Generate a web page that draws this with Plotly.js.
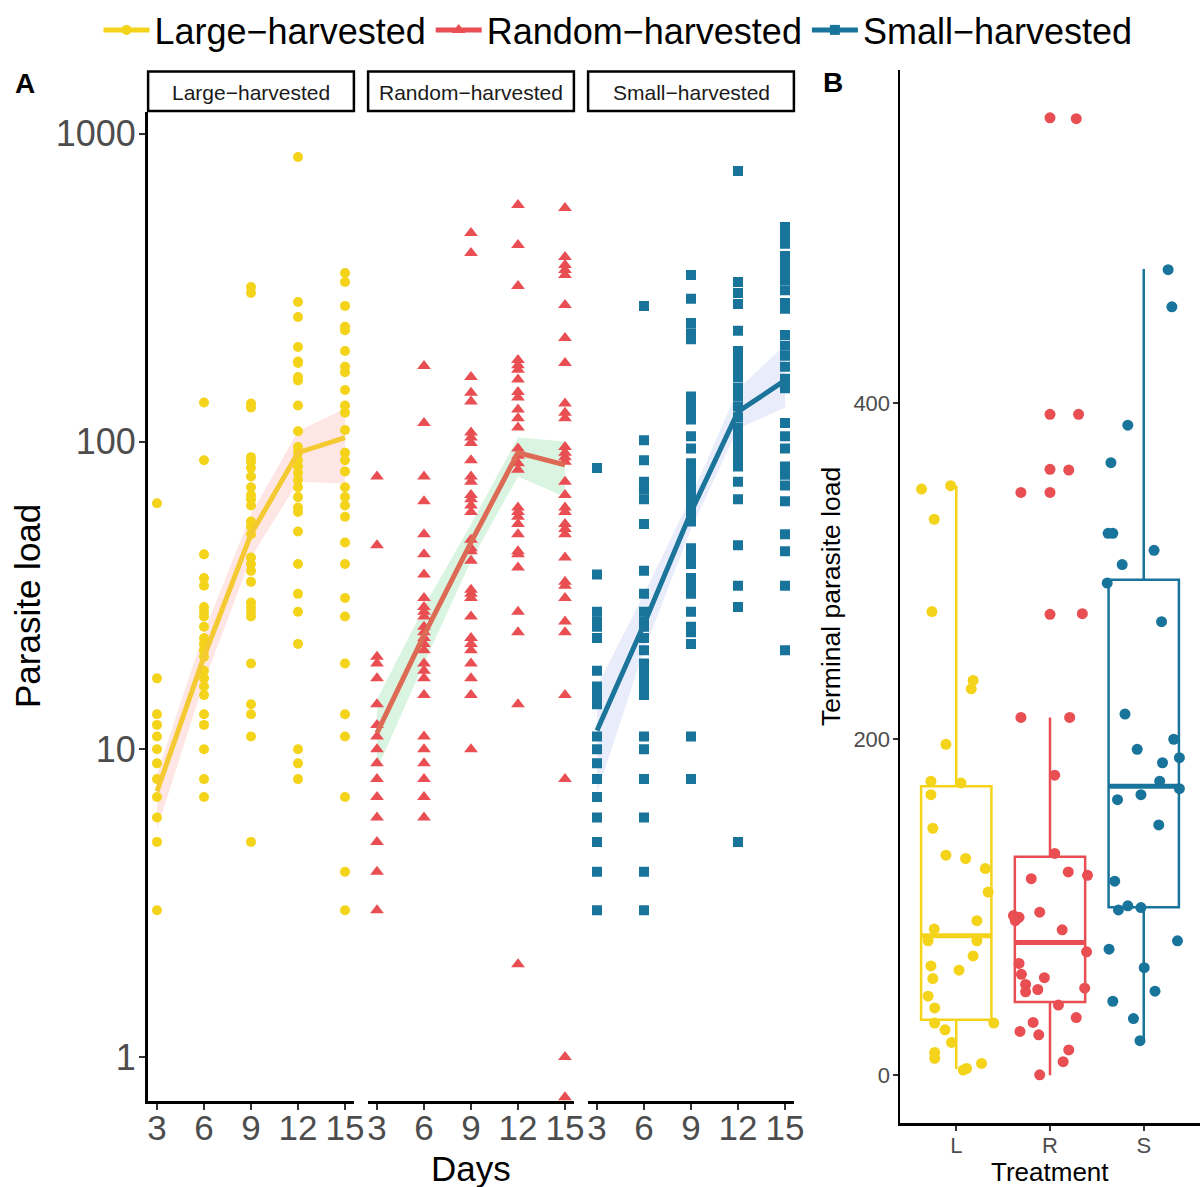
<!DOCTYPE html>
<html><head><meta charset="utf-8">
<script src="https://cdn.plot.ly/plotly-3.0.1.min.js"></script>
<style>html,body{margin:0;padding:0;background:#fff}#chart{width:1201px;height:1187px}</style>
</head><body><div id="chart"></div>
<script>
// ---------- DATA ----------
const days = [3, 6, 9, 12, 15];
const groupNames = ["Large−harvested", "Random−harvested", "Small−harvested"];

// Panel A: parasite load by day (Large-harvested)
const largeD3  = [63, 17, 13, 12, 11, 10, 9, 8, 7, 6, 5, 3];
const largeD6  = [134, 87, 43, 36, 34, 29, 28, 27, 25, 23, 22, 21, 20, 18, 17, 16, 15, 13, 12, 10, 8, 7];
const largeD9  = [318, 304, 133, 129, 89, 86, 82, 77, 71, 67, 65, 62, 55, 53, 50, 42, 40, 38, 35, 30, 29, 28, 27, 19, 14, 13, 11, 5];
const largeD12 = [841, 284, 254, 203, 182, 180, 162, 158, 131, 108, 96, 92, 87, 83, 79, 75, 71, 66, 61, 59, 51, 40, 32, 28, 22, 10, 9, 8];
const largeD15 = [353, 330, 276, 236, 230, 197, 175, 168, 147, 131, 124, 109, 92, 87, 80, 71, 66, 62, 57, 47, 40, 31, 27, 19, 13, 11, 7, 4, 3];

// Random-harvested
const randomD3  = [77, 46, 20, 19, 17, 14, 12, 11, 10, 9, 8, 7, 6, 5, 4, 3];
const randomD6  = [176, 115, 77, 64, 50, 43, 37, 31, 29, 28, 27, 25, 24, 23, 22, 21, 19, 18, 17, 15, 11, 10, 9, 8, 7, 6];
const randomD9  = [476, 410, 162, 144, 135, 107, 103, 99, 87, 77, 74, 67, 65, 62, 59, 48, 45, 44, 41, 33, 32, 31, 27, 23, 22, 21, 19, 17, 15, 10];
const randomD12 = [587, 435, 320, 184, 177, 171, 159, 145, 139, 127, 119, 111, 95, 90, 85, 81, 61, 59, 57, 54, 50, 44, 43, 39, 28, 24, 14, 2];
const randomD15 = [574, 398, 375, 361, 348, 278, 217, 180, 133, 124, 119, 96, 92, 89, 86, 74, 67, 61, 59, 54, 52, 50, 42, 35, 34, 31, 26, 24, 15, 8, 1, 0.74];

// Small-harvested
const smallD3  = [82, 37, 28, 26, 25, 23, 18, 16, 15, 14, 11, 10, 9, 8, 7, 6, 5, 4, 3];
const smallD6  = [276, 101, 87, 74, 70, 65, 54, 38, 32, 28, 26, 25, 23, 21, 19, 18, 17, 16, 15, 11, 10, 8, 6, 4, 3];
const smallD9  = [348, 291, 243, 225, 215, 140, 132, 126, 118, 104, 95, 85, 80, 76, 74, 70, 66, 62, 58, 55, 45, 42, 40, 36, 34, 32, 28, 25, 24, 22, 11, 8];
const smallD12 = [757, 330, 304, 280, 229, 197, 185, 172, 162, 150, 140, 130, 120, 111, 107, 100, 94, 92, 87, 83, 74, 65, 46, 34, 29, 5];
const smallD15 = [498, 470, 439, 401, 375, 351, 335, 310, 282, 270, 222, 205, 190, 175, 160, 156, 149, 115, 104, 95, 83, 78, 72, 64, 50, 44, 34, 21];

// Panel A: trend (mean) and ribbon bounds
const largeMean  = [7.3, 20, 50, 92, 103];
const largeLo    = [5.5, 16.5, 42, 74, 73];
const largeHi    = [8.3, 24, 58, 108, 128];
const randomMean = [11.3, 23.5, 47, 92, 84];
const randomLo   = [8.6, 19, 41, 77, 66];
const randomHi   = [14.5, 29, 54, 103, 100];
const smallMean  = [11.5, 25.5, 59, 125, 158];
const smallLo    = [7.2, 21, 52, 110, 129];
const smallHi    = [16, 32, 66, 148, 206];

// Panel B: terminal parasite load (values and horizontal jitter offsets)
const treatLabels = ["L", "R", "S"];
const termL    = [349, 351, 331, 276, 235, 230, 197, 175, 174, 167, 147, 131, 129, 123, 109, 92, 87, 80, 80, 71, 65, 62.5, 57.5, 47, 40, 31, 31, 27, 19.5, 13.5, 10, 3, 4, 7];
const termLJit = [-0.37, -0.06, -0.235, -0.26, 0.18, 0.16, -0.11, -0.27, 0.05, -0.27, -0.25, -0.11, 0.10, 0.31, 0.34, 0.22, -0.235, -0.30, 0.22, 0.18, -0.27, 0.03, -0.25, -0.30, -0.23, -0.23, 0.40, -0.12, -0.05, -0.23, -0.23, 0.075, 0.11, 0.27];
const termR    = [570, 569.5, 393.5, 393.5, 360.7, 360.3, 347, 347, 274.4, 274.8, 213, 213, 178.6, 132, 117, 121, 119, 95, 94, 92, 97, 86.5, 73.4, 66.5, 60, 58, 54, 49.6, 51, 51.8, 41.7, 34.3, 31.4, 26, 24, 15, 8, 0.2];
const termRJit = [0.0, 0.28, 0.0, 0.305, 0.0, 0.20, -0.31, 0.0, 0.0, 0.345, -0.31, 0.21, 0.05, 0.05, -0.20, 0.195, 0.40, -0.39, -0.33, -0.37, -0.11, 0.13, 0.39, -0.33, -0.305, -0.06, -0.26, -0.26, -0.13, 0.37, 0.09, 0.28, -0.18, -0.32, -0.12, 0.20, 0.14, -0.11];
const termS    = [479.6, 457.5, 387, 364.7, 322.6, 322.6, 312.5, 304, 293, 270, 215, 200, 194, 186, 189, 175, 170.6, 167, 164, 149, 115.5, 98.4, 100.8, 99.8, 80, 75, 64, 50, 44, 33.7, 20.5];
const termSJit = [0.26, 0.30, -0.17, -0.35, -0.38, -0.33, 0.11, -0.23, -0.39, 0.19, -0.20, 0.32, -0.07, 0.20, 0.38, 0.17, 0.38, -0.03, -0.28, 0.16, -0.31, -0.27, -0.17, -0.03, 0.36, -0.37, 0.005, 0.12, -0.33, -0.11, -0.04];

// Panel B: box statistics
const boxLower  = [3.6, 0, 20.5];
const boxQ1     = [33, 43.5, 100];
const boxMedian = [83, 79, 172];
const boxQ3     = [172, 130, 295];
const boxUpper  = [351, 213, 480];

// ---------- STYLE ----------
const W = 1201, H = 1187;
const fx = p => p / W;
const fy = p => 1 - p / H;
const FONT = "Liberation Sans, Arial, Helvetica, sans-serif";
const pointColors = ["#F4D31B", "#E84E52", "#18749A"];
const lineColors  = ["#F5C932", "#DC6A55", "#1B7499"];
const ribbonColors = ["rgba(248,118,109,0.18)", "rgba(0,186,56,0.15)", "rgba(110,130,230,0.15)"];
const symbols = ["circle", "triangle-up", "square"];
const sizes = [10, 12, 10];
const xaxes = ["x", "x2", "x3"];

const groupDays = [
  [largeD3, largeD6, largeD9, largeD12, largeD15],
  [randomD3, randomD6, randomD9, randomD12, randomD15],
  [smallD3, smallD6, smallD9, smallD12, smallD15]
];
const means = [largeMean, randomMean, smallMean];
const los = [largeLo, randomLo, smallLo];
const his = [largeHi, randomHi, smallHi];

const traces = [];
for (let g = 0; g < 3; g++) {
  traces.push({
    type: "scatter", mode: "lines", xaxis: xaxes[g], yaxis: "y",
    x: days.concat(days.slice().reverse()),
    y: his[g].concat(los[g].slice().reverse()),
    fill: "toself", fillcolor: ribbonColors[g], line: {width: 0},
    hoverinfo: "skip", showlegend: false
  });
  const px = [], py = [];
  groupDays[g].forEach((arr, i) => arr.forEach(v => { px.push(days[i]); py.push(v); }));
  traces.push({
    type: "scatter", mode: "markers", xaxis: xaxes[g], yaxis: "y",
    x: px, y: py, showlegend: false,
    marker: {symbol: symbols[g], size: sizes[g], color: pointColors[g], line: {width: 0}}
  });
  traces.push({
    type: "scatter", mode: "lines", xaxis: xaxes[g], yaxis: "y",
    x: days, y: means[g], showlegend: false,
    line: {color: lineColors[g], width: 5}
  });
}

// legend entries
for (let g = 0; g < 3; g++) {
  traces.push({
    type: "scatter", mode: "lines+markers", xaxis: "x", yaxis: "y",
    x: [null], y: [null], name: groupNames[g], showlegend: true,
    line: {color: pointColors[g], width: 5},
    marker: {symbol: symbols[g], size: sizes[g], color: pointColors[g]}
  });
}

// Panel B boxes
const terms = [termL, termR, termS];
const jits = [termLJit, termRJit, termSJit];
const BW = 0.75;
for (let g = 0; g < 3; g++) {
  const c = g + 1;
  traces.push({
    type: "box", xaxis: "x4", yaxis: "y4", x: [c],
    q1: [boxQ1[g]], median: [boxMedian[g]], q3: [boxQ3[g]],
    lowerfence: [boxLower[g]], upperfence: [boxUpper[g]],
    width: BW, whiskerwidth: 0, boxpoints: false,
    line: {color: pointColors[g], width: 2.5}, fillcolor: "rgba(0,0,0,0)",
    showlegend: false, hoverinfo: "skip"
  });
  traces.push({
    type: "scatter", mode: "lines", xaxis: "x4", yaxis: "y4",
    x: [c - BW / 2, c + BW / 2], y: [boxMedian[g], boxMedian[g]],
    line: {color: pointColors[g], width: 5}, showlegend: false, hoverinfo: "skip"
  });
}
for (let g = 0; g < 3; g++) {
  const c = g + 1;
  traces.push({
    type: "scatter", mode: "markers", xaxis: "x4", yaxis: "y4",
    x: jits[g].map(j => c + j), y: terms[g], showlegend: false,
    marker: {symbol: "circle", size: 11, color: pointColors[g]}
  });
}

// ---------- LAYOUT ----------
const facetPx = [[147.6, 354.4], [367.6, 574.4], [587.6, 794.4]];
const tickGrey = "#4D4D4D";
function facetX(i) {
  return {
    domain: [fx(facetPx[i][0]), fx(facetPx[i][1])], anchor: "y",
    range: [2.4, 15.6], tickmode: "array", tickvals: days, ticktext: days.map(String),
    showline: true, linecolor: "#000", linewidth: 2.5, mirror: false,
    ticks: "outside", ticklen: 6, tickwidth: 2, tickcolor: "#333",
    ticklabelstandoff: -12,
    tickfont: {family: FONT, size: 35, color: tickGrey},
    showgrid: false, zeroline: false, fixedrange: true
  };
}

const shapes = facetPx.map(f => ({
  type: "rect", xref: "paper", yref: "paper",
  x0: fx(f[0] + 0.5), x1: fx(f[1] - 0.5), y0: fy(111), y1: fy(71.5),
  line: {color: "#000", width: 2.5}, fillcolor: "#fff", layer: "above"
}));

const ann = (text, xpx, ypx, size, extra) => Object.assign({
  text: text, xref: "paper", yref: "paper", x: fx(xpx), y: fy(ypx),
  xanchor: "center", yanchor: "middle", showarrow: false,
  font: {family: FONT, size: size, color: "#000"}
}, extra || {});

const stripFont = {family: FONT, size: 21, color: "#1A1A1A"};
const annotations = [
  ann(groupNames[0], (facetPx[0][0] + facetPx[0][1]) / 2, 92, 21, {font: stripFont}),
  ann(groupNames[1], (facetPx[1][0] + facetPx[1][1]) / 2, 92, 21, {font: stripFont}),
  ann(groupNames[2], (facetPx[2][0] + facetPx[2][1]) / 2, 92, 21, {font: stripFont}),
  ann("Days", 471, 1168, 35),
  ann("Parasite load", 28, 606, 35, {textangle: -90}),
  ann("Terminal parasite load", 831, 597, 26.5, {textangle: -90}),
  ann("Treatment", 1050, 1172, 26),
  ann("<b>A</b>", 25, 83, 28),
  ann("<b>B</b>", 833, 82, 28)
];

const layout = {
  width: W, height: H, margin: {l: 0, r: 0, t: 0, b: 0},
  paper_bgcolor: "#fff", plot_bgcolor: "rgba(0,0,0,0)",
  font: {family: FONT},
  showlegend: true,
  legend: {
    orientation: "h", x: 618 / W, xanchor: "center", y: 1, yanchor: "top",
    font: {family: FONT, size: 36, color: "#000"}, itemwidth: 46,
    bgcolor: "rgba(0,0,0,0)", traceorder: "normal"
  },
  xaxis: facetX(0), xaxis2: facetX(1), xaxis3: facetX(2),
  yaxis: {
    domain: [fy(1101), fy(112)], anchor: "x", type: "log",
    range: [-0.143, 3.071], tickmode: "array", tickvals: [1, 10, 100, 1000], ticktext: ["1", "10", "100", "1000"],
    showline: true, linecolor: "#000", linewidth: 2.5,
    ticks: "outside", ticklen: 6, tickwidth: 2, tickcolor: "#333",
    ticklabelstandoff: -4,
    tickfont: {family: FONT, size: 36, color: tickGrey},
    showgrid: false, zeroline: false, fixedrange: true
  },
  xaxis4: {
    domain: [fx(900), fx(1200)], anchor: "y4", range: [0.4, 3.6],
    tickmode: "array", tickvals: [1, 2, 3], ticktext: treatLabels,
    showline: true, linecolor: "#000", linewidth: 2.5,
    ticks: "outside", ticklen: 5, tickwidth: 2, tickcolor: "#333",
    ticklabelstandoff: -4,
    tickfont: {family: FONT, size: 22, color: tickGrey},
    showgrid: false, zeroline: false, fixedrange: true
  },
  yaxis4: {
    domain: [fy(1123), fy(70)], anchor: "x4", range: [-28.5, 598.5],
    tickmode: "array", tickvals: [0, 200, 400], ticktext: ["0", "200", "400"],
    showline: true, linecolor: "#000", linewidth: 2.5,
    ticks: "outside", ticklen: 5, tickwidth: 2, tickcolor: "#333",
    ticklabelstandoff: -2,
    tickfont: {family: FONT, size: 22, color: tickGrey},
    showgrid: false, zeroline: false, fixedrange: true
  },
  shapes: shapes,
  annotations: annotations
};

Plotly.newPlot("chart", traces, layout, {displayModeBar: false, staticPlot: true});
</script>
</body></html>
